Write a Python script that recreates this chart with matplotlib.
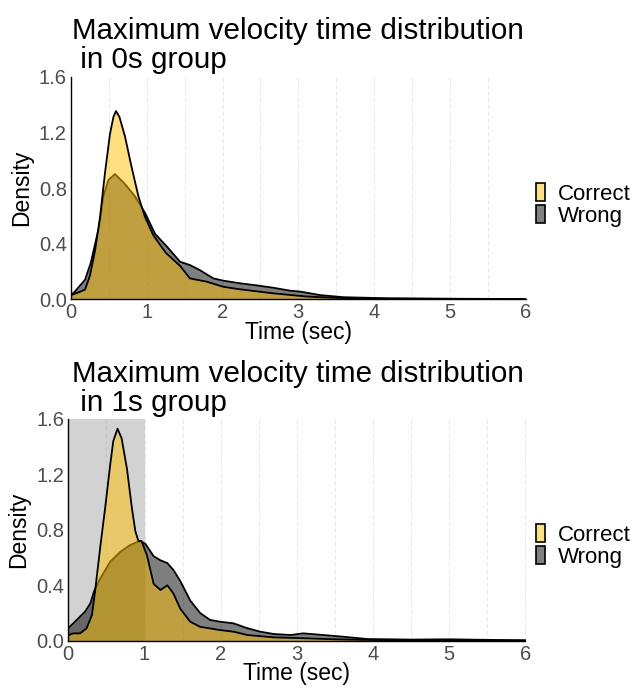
import numpy as np
import matplotlib
matplotlib.use("Agg")
import matplotlib.pyplot as plt
from matplotlib.patches import Patch, Rectangle

plt.rcParams['font.family'] = ['Liberation Sans', 'DejaVu Sans']

# ---- values (time in sec, density) ----
g0_correct_x = [0.0, 0.1, 0.185, 0.25, 0.317, 0.383, 0.449, 0.515, 0.56, 0.594, 0.64, 0.713,
                0.80, 0.89, 0.978, 1.087, 1.25, 1.44, 1.57, 1.79, 2.01, 2.23, 2.67, 3.11,
                3.5, 4.0, 5.0, 6.0]
g0_correct_y = [0.03, 0.05, 0.07, 0.17, 0.35, 0.59, 0.91, 1.19, 1.31, 1.353, 1.31, 1.17,
                0.95, 0.74, 0.59, 0.46, 0.335, 0.24, 0.15, 0.127, 0.09, 0.072, 0.043, 0.02,
                0.01, 0.005, 0.003, 0.001]
g0_wrong_x = [0.0, 0.05, 0.185, 0.26, 0.37, 0.427, 0.493, 0.58, 0.71, 0.845, 0.978, 1.11,
              1.264, 1.44, 1.57, 1.70, 1.88, 2.01, 2.23, 2.45, 2.67, 2.89, 3.03, 3.29,
              3.6, 3.82, 4.2, 5.0, 6.0]
g0_wrong_y = [0.03, 0.055, 0.14, 0.26, 0.52, 0.74, 0.857, 0.90, 0.83, 0.74, 0.62, 0.47,
              0.38, 0.27, 0.246, 0.21, 0.15, 0.134, 0.115, 0.10, 0.083, 0.062, 0.055, 0.03,
              0.015, 0.012, 0.007, 0.004, 0.002]

g1_correct_x = [0.0, 0.066, 0.154, 0.24, 0.31, 0.35, 0.418, 0.484, 0.55, 0.59, 0.646, 0.70,
                0.77, 0.835, 0.88, 0.92, 0.96, 1.03, 1.12, 1.21, 1.30, 1.38, 1.47, 1.60,
                1.73, 1.99, 2.17, 2.35, 2.70, 3.14, 3.5, 4.0, 5.0, 6.0]
g1_correct_y = [0.04, 0.053, 0.053, 0.09, 0.185, 0.35, 0.67, 0.96, 1.27, 1.44, 1.53, 1.46,
                1.24, 0.955, 0.79, 0.72, 0.72, 0.62, 0.41, 0.366, 0.40, 0.34, 0.23, 0.137,
                0.10, 0.077, 0.065, 0.041, 0.024, 0.017, 0.01, 0.005, 0.003, 0.001]
g1_wrong_x = [0.0, 0.11, 0.22, 0.29, 0.34, 0.42, 0.55, 0.68, 0.81, 0.94, 1.01, 1.12, 1.21,
              1.30, 1.38, 1.47, 1.60, 1.73, 1.86, 1.99, 2.17, 2.35, 2.52, 2.70, 2.92, 3.08,
              3.26, 3.58, 3.93, 4.5, 5.0, 5.5, 6.0]
g1_wrong_y = [0.09, 0.15, 0.21, 0.27, 0.36, 0.45, 0.57, 0.64, 0.69, 0.72, 0.70, 0.61, 0.58,
              0.56, 0.51, 0.43, 0.29, 0.20, 0.15, 0.137, 0.125, 0.09, 0.065, 0.048, 0.041,
              0.053, 0.045, 0.03, 0.012, 0.008, 0.01, 0.006, 0.003]

groups = ["0s", "1s"]
x_ticks = [0, 1, 2, 3, 4, 5, 6]
y_ticks = [0.0, 0.4, 0.8, 1.2, 1.6]

correct_col = '#FFC000'
wrong_col = '#000000'

fig = plt.figure(figsize=(6.35, 6.89), dpi=100)
W, H = 635, 689

panels = [
    dict(rect=(71, 76.7, 525.5, 299.3), cx=g0_correct_x, cy=g0_correct_y,
         wx=g0_wrong_x, wy=g0_wrong_y, shade=False, leg_y=205),
    dict(rect=(68.3, 419, 525.5, 640.7), cx=g1_correct_x, cy=g1_correct_y,
         wx=g1_wrong_x, wy=g1_wrong_y, shade=True, leg_y=546),
]

for grp, p in zip(groups, panels):
    x0, y0, x1, y1 = p['rect']
    ax = fig.add_axes([x0 / W, 1 - y1 / H, (x1 - x0) / W, (y1 - y0) / H])
    ax.set_xlim(0, 6)
    ax.set_ylim(0, 1.6)

    for gx in np.arange(0, 6.01, 0.5):
        ax.axvline(gx, color='#e6e6e6', lw=0.7, ls=(0, (4, 3)), zorder=0)

    if p['shade']:
        ax.add_patch(Rectangle((0, 0), 1, 1.6, facecolor='#a6a6a6', alpha=0.5,
                               edgecolor='none', zorder=1))

    ax.fill_between(p['wx'], p['wy'], color=wrong_col, alpha=0.5, lw=0, zorder=2)
    ax.plot(p['wx'], p['wy'], color='black', lw=1.3, zorder=2)
    ax.fill_between(p['cx'], p['cy'], color=correct_col, alpha=0.5, lw=0, zorder=3)
    ax.plot(p['cx'], p['cy'], color='black', lw=1.3, zorder=3)

    for s in ['top', 'right']:
        ax.spines[s].set_visible(False)
    for s in ['left', 'bottom']:
        ax.spines[s].set_color('black')
        ax.spines[s].set_linewidth(1.0)
        ax.spines[s].set_zorder(5)

    ax.set_xticks(x_ticks)
    ax.set_yticks(y_ticks)
    ax.set_yticklabels([f"{v:.1f}" for v in y_ticks])
    ax.tick_params(length=0, labelsize=14.5, labelcolor='#4d4d4d')
    ax.tick_params(axis='x', pad=3)
    ax.tick_params(axis='y', pad=3)
    ax.set_xlabel("Time (sec)", fontsize=16.5, labelpad=-1)
    ax.set_ylabel("Density", fontsize=16.5, labelpad=4)

    # title: baseline of the second line sits ~8 px above the panel top
    fig.text(72 / W, 1 - (y0 - 8.4) / H,
             f"Maximum velocity time distribution\n in {grp} group",
             fontsize=21.3, va='baseline', ha='left', linespacing=1.05)

    handles = [Patch(facecolor=(1.0, 0.875, 0.5), edgecolor='black', lw=1.2),
               Patch(facecolor='#808080', edgecolor='black', lw=1.2)]
    fig.legend(handles, ["Correct", "Wrong"], loc='center left',
               bbox_to_anchor=(536 / W, 1 - p['leg_y'] / H), frameon=False,
               fontsize=16, handlelength=0.4, handleheight=0.85, handletextpad=0.6,
               labelspacing=0.0, borderpad=0, borderaxespad=0)

fig.savefig("out.png", dpi=100)
